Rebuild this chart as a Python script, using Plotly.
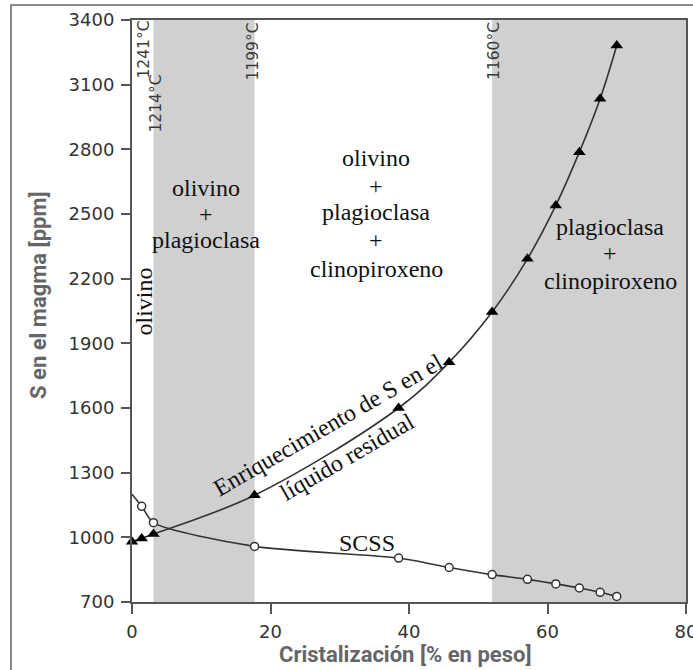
import plotly.graph_objects as go

# ---------------- data ----------------
CRYST = [0, 1.4, 3.1, 17.7, 38.5, 45.8, 52.0, 57.1, 61.2, 64.6, 67.6, 70.0]
S_RESIDUAL = [980, 995, 1015, 1195, 1600, 1812, 2045, 2292, 2540, 2787, 3035, 3282]
SCSS = [1200, 1144, 1068, 958, 904, 860, 827, 805, 784, 765, 745, 726]

X_TICKS = [0, 20, 40, 60, 80]
Y_TICKS = [700, 1000, 1300, 1600, 1900, 2200, 2500, 2800, 3100, 3400]
X_RANGE = [0, 80]
Y_RANGE = [700, 3400]

SHADED = [(3.1, 17.7), (52.0, 80.0)]
TEMP_LABELS = ["1241°C", "1214°C", "1199°C", "1160°C"]

# ---------------- layout geometry ----------------
W, H = 693, 670
ML, MR, MT, MB = 132, 7, 20, 68
PW, PH = W - ML - MR, H - MT - MB


def px(xpix):
    return (xpix - ML) / PW


def py(ypix):
    return (H - MB - ypix) / PH


fig = go.Figure()

# shaded crystallisation fields
for x0, x1 in SHADED:
    fig.add_shape(type="rect", xref="x", yref="paper", x0=x0, x1=x1, y0=0, y1=1,
                  fillcolor="#d0d0d0", line_width=0, layer="below")

# outer picture frame
fig.add_shape(type="rect", xref="paper", yref="paper", x0=px(11), x1=1.3,
              y0=-0.5, y1=py(5), line=dict(color="#8a8a8a", width=2))

# SCSS curve
fig.add_trace(go.Scatter(
    x=CRYST, y=SCSS, mode="lines+markers", line=dict(color="#333", width=1.6, shape="spline", smoothing=0.7),
    marker=dict(symbol="circle", size=8, color="white", line=dict(color="#333", width=1.5),
                opacity=[0] + [1] * (len(SCSS) - 1)),
    cliponaxis=False, showlegend=False))

# S enrichment curve
fig.add_trace(go.Scatter(
    x=CRYST, y=S_RESIDUAL, mode="lines+markers", line=dict(color="#333", width=1.6, shape="spline", smoothing=1),
    marker=dict(symbol="triangle-up", size=11, color="black"),
    cliponaxis=False, showlegend=False))

ann = []
SERIF = "Liberation Serif, Times New Roman, serif"


def text(t, xp, yp, size=24, angle=0, family=SERIF, color="#111"):
    ann.append(dict(text=t, x=px(xp), y=py(yp), xref="paper", yref="paper", showarrow=False,
                    xanchor="center", yanchor="middle", textangle=angle,
                    font=dict(family=family, size=size, color=color)))


# temperature labels
for t, (xp, yp) in zip(TEMP_LABELS, [(143.5, 50), (155.5, 104), (252.5, 52), (494, 51)]):
    text(t, xp, yp, size=15.5, angle=-90, family="DejaVu Sans, sans-serif", color="#3a3a3a")

# field labels
text("olivino", 143.5, 302, angle=-90)
for t, yp in zip(["olivino", "+", "plagioclasa"], [188, 214, 240]):
    text(t, 206, yp)
for t, yp in zip(["olivino", "+", "plagioclasa", "+", "clinopiroxeno"], [158, 186, 212, 240, 269]):
    text(t, 376, yp)
for t, yp in zip(["plagioclasa", "+", "clinopiroxeno"], [227, 253, 281]):
    text(t, 610, yp)

text("SCSS", 367, 543)
text("Enriquecimiento de S en el", 328, 425, angle=-30)
text("líquido residual", 347, 457, angle=-30)

# axis titles
text("<b>S en el magma [ppm]</b>", 38, 295, size=22, angle=-90, family="Roboto, sans-serif", color="#666")
text("<b>Cristalización [% en peso]</b>", 405, 655, size=22, family="Roboto, sans-serif", color="#666")

fig.update_layout(
    width=W, height=H, margin=dict(l=ML, r=MR, t=MT, b=MB, pad=0, autoexpand=False),
    paper_bgcolor="white", plot_bgcolor="white", annotations=ann,
    xaxis=dict(range=X_RANGE, tickvals=X_TICKS, showgrid=False, zeroline=False, automargin=False,
               showline=True, linecolor="#555", linewidth=2, mirror=True,
               ticks="outside", ticklen=10, tickwidth=2, tickcolor="#555",
               tickfont=dict(family="DejaVu Sans", size=18, color="#333"), ticklabelstandoff=2,
               ticklabeloverflow="allow"),
    yaxis=dict(range=Y_RANGE, tickvals=Y_TICKS, showgrid=False, zeroline=False, automargin=False,
               showline=True, linecolor="#555", linewidth=2, mirror=True,
               ticks="outside", ticklen=9, tickwidth=2, tickcolor="#555",
               tickfont=dict(family="DejaVu Sans", size=18, color="#333"), ticklabelstandoff=3,
               ticklabeloverflow="allow"),
)

fig.write_html("out.html")
